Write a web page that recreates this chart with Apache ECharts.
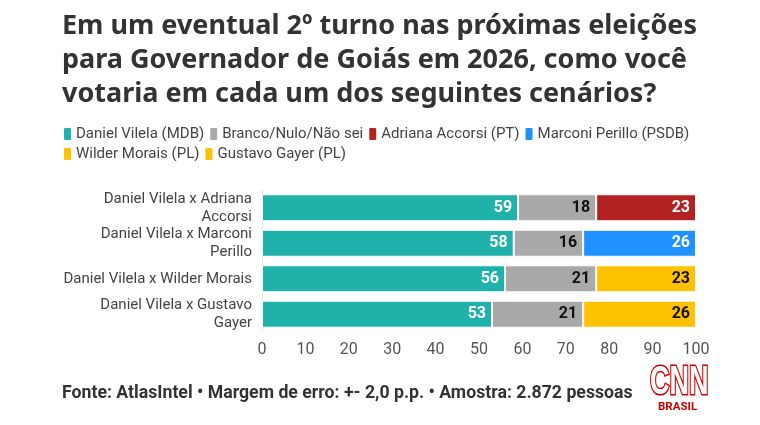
<!DOCTYPE html>
<html><head><meta charset="utf-8">
<script src="https://cdn.jsdelivr.net/npm/echarts@6/dist/echarts.min.js"></script>
<style>html,body{margin:0;padding:0;background:#fff}#c{width:760px;height:425px}</style>
</head><body><div id="c"></div>
<script>
const categories = ['Daniel Vilela x Adriana\nAccorsi','Daniel Vilela x Marconi\nPerillo','Daniel Vilela x Wilder Morais','Daniel Vilela x Gustavo\nGayer'];
const seriesNames = ['Daniel Vilela (MDB)','Branco/Nulo/Não sei','Adriana Accorsi (PT)','Marconi Perillo (PSDB)','Wilder Morais (PL)','Gustavo Gayer (PL)'];
const danielVilela = [59,58,56,53];
const branco = [18,16,21,21];
const adriana = [23,null,null,null];
const marconi = [null,26,null,null];
const wilder = [null,null,23,null];
const gustavo = [null,null,null,26];
const colors = ['#20B2AA','#A9A9A9','#B22222','#1E90FF','#FFC200','#FFC200'];
const labelColors = ['#fff','#111','#fff','#fff','#111','#111'];
const xTicks = [0,10,20,30,40,50,60,70,80,90,100];

const FONT = '"Roboto","Noto Sans",sans-serif';
const chart = echarts.init(document.getElementById('c'));
const dataArr = [danielVilela,branco,adriana,marconi,wilder,gustavo];
chart.setOption({
  animation:false,
  textStyle:{fontFamily:FONT},
  title:{text:'Em um eventual 2º turno nas próximas eleições\npara Governador de Goiás em 2026, como você\nvotaria em cada um dos seguintes cenários?',
    left:57, top:4, padding:[5,5,5,5],
    textStyle:{fontFamily:'"Noto Sans","Open Sans",sans-serif',fontSize:27,fontWeight:'bold',color:'#333',lineHeight:34}},
  legend:{left:57, top:121, width:680, itemWidth:9, itemHeight:14, itemGap:4, icon:'roundRect',
    textStyle:{fontFamily:FONT,fontSize:15,color:'#444',padding:[0,4,0,-1]},
    data:seriesNames},
  grid:{left:262, right:64, top:190, bottom:93, containLabel:false},
  xAxis:{type:'value', min:0, max:100, interval:10,
    axisLine:{show:false}, axisTick:{show:false}, splitLine:{show:false},
    axisLabel:{fontFamily:FONT, fontSize:16, color:'#555', margin:10,
      formatter:v=> xTicks.includes(v)? String(v):''}},
  yAxis:{type:'category', inverse:true, data:categories,
    axisLine:{show:true,lineStyle:{color:'#e6e6e6',width:1}}, axisTick:{show:false},
    axisLabel:{interval:0, hideOverlap:false, fontFamily:FONT, fontSize:15, color:'#444', margin:10, lineHeight:18}},
  series: seriesNames.map((n,i)=>({
    name:n, type:'bar', stack:'t', data:dataArr[i], barCategoryGap:'24%',
    itemStyle:{color:colors[i], borderColor:'#fff', borderWidth:1},
    label:{show:true, position:'insideRight', distance:6, color:labelColors[i],
      fontFamily:FONT, fontSize:16, fontWeight:'bold'}
  })),
  graphic:[
    {type:'text', left:62, top:385, style:{text:'Fonte: AtlasIntel • Margem de erro: +- 2,0 p.p. • Amostra: 2.872 pessoas',
      fontFamily:FONT, fontSize:17.7, fontWeight:'bold', fill:'#333'}},
    {type:'text', x:650, y:362, scaleX:0.66, style:{text:'CNN', fontFamily:'"Liberation Sans","DejaVu Sans",sans-serif', fontSize:41, fontWeight:'bold', fill:'#fff', stroke:'#CC0000', lineWidth:3.2}},
    {type:'text', x:658, y:401, style:{text:'BRASIL', fontFamily:'"Roboto",sans-serif', fontSize:11.5, fontWeight:'bold', fill:'#CC0000'}}
  ]
});
</script></body></html>
